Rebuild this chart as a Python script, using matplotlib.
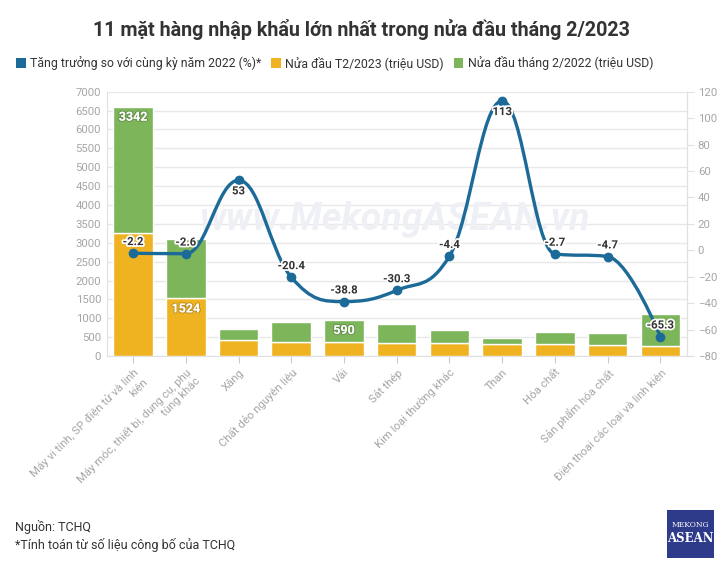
import matplotlib
matplotlib.use("Agg")
import matplotlib.pyplot as plt
from matplotlib.path import Path
from matplotlib.patches import PathPatch, Patch, Rectangle
import matplotlib.patheffects as pe

plt.rcParams['font.family'] = ['Roboto', 'DejaVu Sans']

categories = [
    "Máy vi tính, SP điện tử và linh\nkiện",
    "Máy móc, thiết bị, dụng cụ, phụ\ntùng khác",
    "Xăng",
    "Chất dẻo nguyên liệu",
    "Vải",
    "Sắt thép",
    "Kim loại thường khác",
    "Than",
    "Hóa chất",
    "Sản phẩm hóa chất",
    "Điện thoại các loại và linh kiện",
]
val_2023 = [3260, 1524, 423, 380, 362, 336, 353, 309, 309, 300, 265]
val_2022 = [3342, 1566, 284, 529, 590, 511, 344, 168, 327, 309, 847]
growth = [-2.2, -2.6, 53, -20.4, -38.8, -30.3, -4.4, 113, -2.7, -4.7, -65.3]

label_2023 = "Nửa đầu T2/2023 (triệu USD)"
label_2022 = "Nửa đầu tháng 2/2022 (triệu USD)"
label_growth = "Tăng trưởng so với cùng kỳ năm 2022 (%)*"
title = "11 mặt hàng nhập khẩu lớn nhất trong nửa đầu tháng 2/2023"

BLUE = "#1c6a98"
YELLOW = "#efb322"
GREEN = "#7db55a"
GRAY = "#a6a6a6"
DARK = "#333333"

fig = plt.figure(figsize=(7.23, 5.69), dpi=100)
ax = fig.add_axes([0.1476, 0.3743, 0.8022, 0.4645])
ax2 = ax.twinx()

x = list(range(len(categories)))
ax.bar(x, val_2023, width=0.75, color=YELLOW, edgecolor="white", linewidth=1.0, zorder=2)
ax.bar(x, val_2022, width=0.75, bottom=val_2023, color=GREEN, edgecolor="white", linewidth=1.0, zorder=2)

ax.set_xlim(-0.5, len(categories) - 0.5)
ax.set_ylim(0, 7000)
ax.set_yticks(range(0, 7001, 500))
ax.yaxis.grid(True, color="#e8e8e8", linewidth=1, zorder=0)
ax.set_axisbelow(True)
ax.tick_params(axis='y', length=0, labelsize=8.2, labelcolor=GRAY, pad=4)
ax.set_xticks(x)
ax.set_xticklabels(categories, rotation=45, ha='right', rotation_mode='anchor',
                   fontsize=8.2, color=GRAY, multialignment='right')
ax.tick_params(axis='x', length=5, color="#cccccc", pad=3)
ax.spines['top'].set_visible(False)
for s in ['left', 'right', 'bottom']:
    ax.spines[s].set_color("#e0e0e0")

ax2.set_ylim(-80, 120)
ax2.set_yticks(range(-80, 121, 20))
ax2.tick_params(axis='y', length=5, color="#e0e0e0", labelsize=8.2, labelcolor=GRAY, pad=3)
for s in ['top', 'left', 'bottom']:
    ax2.spines[s].set_visible(False)
ax2.spines['right'].set_color("#e0e0e0")

# watermark
ax.text(0.497, 0.515, "www.MekongASEAN.vn", transform=ax.transAxes, fontsize=27,
        fontstyle='italic', fontweight='bold', color="#eef0f5", ha='center', va='center', zorder=1)

# bar labels
bar_labels = [(0, 'g', "3342"), (1, 'y', "1524"), (4, 'g', "590")]
for i, which, txt in bar_labels:
    top = val_2023[i] + val_2022[i] if which == 'g' else val_2023[i]
    ax.annotate(txt, (i, top), xytext=(0, -7.5), textcoords='offset points',
                ha='center', va='center', color='white', fontsize=9, fontweight='bold', zorder=5,
                path_effects=[pe.withStroke(linewidth=1.5, foreground="#00000030")])

# Highcharts-like spline
def spline_path(xs, ys, smoothing=1.5):
    n = len(xs)
    denom = smoothing + 1
    lc = [(xs[i], ys[i]) for i in range(n)]
    rc = [(xs[i], ys[i]) for i in range(n)]
    for i in range(1, n - 1):
        px, py = xs[i], ys[i]
        lx, ly = xs[i - 1], ys[i - 1]
        nx, ny = xs[i + 1], ys[i + 1]
        lcx = (smoothing * px + lx) / denom
        lcy = (smoothing * py + ly) / denom
        rcx = (smoothing * px + nx) / denom
        rcy = (smoothing * py + ny) / denom
        if rcx != lcx:
            corr = ((rcy - lcy) * (rcx - px)) / (rcx - lcx) + py - rcy
            lcy += corr
            rcy += corr
        if lcy > ly and lcy > py:
            lcy = max(ly, py); rcy = 2 * py - lcy
        elif lcy < ly and lcy < py:
            lcy = min(ly, py); rcy = 2 * py - lcy
        if rcy > ny and rcy > py:
            rcy = max(ny, py); lcy = 2 * py - rcy
        elif rcy < ny and rcy < py:
            rcy = min(ny, py); lcy = 2 * py - rcy
        lc[i] = (lcx, lcy)
        rc[i] = (rcx, rcy)
    verts = [(xs[0], ys[0])]
    codes = [Path.MOVETO]
    for i in range(1, n):
        verts += [rc[i - 1], lc[i], (xs[i], ys[i])]
        codes += [Path.CURVE4] * 3
    return Path(verts, codes)

path = spline_path(x, growth)
ax2.add_patch(PathPatch(path, facecolor='none', edgecolor=BLUE, linewidth=2.4, zorder=4, capstyle='round'))
ax2.plot(x, growth, 'o', color=BLUE, markersize=6, zorder=5)

label_pos = [1, 1, -1, 1, 1, 1, 1, -1, 1, 1, 1]
for i, (v, s) in enumerate(zip(growth, label_pos)):
    ax2.annotate(f"{v:g}", (i, v), xytext=(0, 8 * s), textcoords='offset points', ha='center', va='center',
                 fontsize=8.2, fontweight='bold', color=DARK, zorder=6,
                 path_effects=[pe.withStroke(linewidth=2.5, foreground='white')])

# title
fig.text(0.5, 1 - 30 / 569, title, ha='center', va='center', fontsize=14.2, fontweight='bold', color=DARK)

# legend
handles = [
    Patch(facecolor=BLUE, edgecolor='none', label=label_growth),
    Patch(facecolor=YELLOW, edgecolor='none', label=label_2023),
    Patch(facecolor=GREEN, edgecolor='none', label=label_2022),
]
fig.legend(handles=handles, loc='center left', bbox_to_anchor=(16 / 723, 1 - 63 / 569), ncol=3,
           frameon=False, fontsize=8.8, handlelength=0.8, handleheight=0.9, handletextpad=0.35,
           columnspacing=0.8, borderaxespad=0, borderpad=0, labelcolor=DARK)

# footer
fig.text(15 / 723, 1 - 527 / 569, "Nguồn: TCHQ", fontsize=9, color=DARK, va='center', ha='left')
fig.text(15 / 723, 1 - 545 / 569, "*Tính toán từ số liệu công bố của TCHQ", fontsize=9, color=DARK,
         va='center', ha='left')

# logo
fig.patches.append(Rectangle((667 / 723, 1 - 558 / 569), 47 / 723, 48 / 569, transform=fig.transFigure,
                             facecolor="#2e3a8a", edgecolor='none'))
fig.text(690.5 / 723, 1 - 525 / 569, "MEKONG", fontsize=5.5, color='white', ha='center', va='center',
         family='DejaVu Serif')
fig.text(690.5 / 723, 1 - 538 / 569, "ASEAN", fontsize=8.5, color='white', ha='center', va='center',
         family='DejaVu Serif', fontweight='bold')

fig.savefig("out.png", dpi=100, facecolor='white')
